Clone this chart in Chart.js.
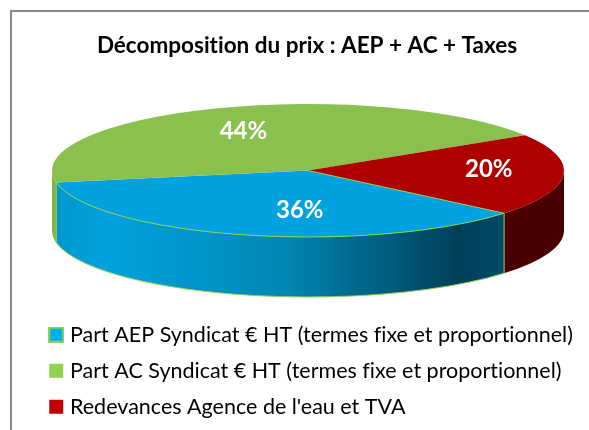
<!DOCTYPE html>
<html><head><meta charset="utf-8">
<style>html,body{margin:0;padding:0;background:#fff}canvas{display:block}</style>
<script src="https://cdn.jsdelivr.net/npm/chart.js@4"></script>
</head><body><canvas id="c" width="589" height="430"></canvas>
<script>
const categories = ["Part AEP Syndicat € HT (termes fixe et proportionnel)","Part AC Syndicat € HT (termes fixe et proportionnel)","Redevances Agence de l'eau et TVA"];
const shares = [36, 44, 20];
const chartTitle = "Décomposition du prix : AEP + AC + Taxes";
const faceColors = ["#00A3E0","#8AC14E","#AF0000"];
const legendColors = ["#00B0F0","#92D050","#C00000"];
const legendEdges = ["#92D050",null,null];

const FONT = "Lato, Carlito, sans-serif";
const G = {cx:308, cy:170.5, rx:256, ry:66.5, depth:60};
const labelPlace = [{f:.6,dx:31,dy:1},{f:.6,dx:-9,dy:-2},{f:.7,dx:2,dy:-4}];

function swatch(fill, edge){
  const s=document.createElement('canvas'); s.width=16; s.height=16;
  const x=s.getContext('2d');
  if(edge){
    x.fillStyle=edge; x.fillRect(0,0,16,16);
    x.fillStyle=fill; x.fillRect(2,2,12,12);
  } else {
    x.fillStyle=fill; x.fillRect(1,1,14,14);
  }
  return s;
}
function wallFill(ctx,i,a0,a1){
  const x0=G.cx+G.rx*Math.cos(a1), x1=G.cx+G.rx*Math.cos(a0);
  if(i===0){
    const g=ctx.createLinearGradient(x0,0,x1,0);
    g.addColorStop(0,'#0097cd'); g.addColorStop(.11,'#00a2df'); g.addColorStop(.5,'#0088b5');
    g.addColorStop(.9,'#003f58'); g.addColorStop(1,'#004a68');
    return g;
  }
  return i===1 ? '#7fb24a' : '#4a0000';
}
const pie3d = {
  id:'pie3d',
  beforeDraw(chart){
    const c=chart.ctx;
    c.textRendering='optimizeSpeed';
    c.save();
    c.fillStyle='#fff'; c.fillRect(0,0,chart.width,chart.height);
    c.strokeStyle='#868686'; c.lineWidth=2;
    c.beginPath(); c.moveTo(11,chart.height); c.lineTo(11,11); c.lineTo(chart.width,11); c.stroke();
    c.restore();
  },
  beforeDatasetsDraw(chart){
    const c=chart.ctx, arcs=chart.getDatasetMeta(0).data;
    arcs.forEach((el,i)=>{
      const segs=[[el.startAngle,el.endAngle],[el.startAngle-2*Math.PI,el.endAngle-2*Math.PI]];
      segs.forEach(([s,e])=>{
        const a0=Math.max(s,0), a1=Math.min(e,Math.PI);
        if(a1<=a0) return;
        c.save();
        c.beginPath();
        c.ellipse(G.cx,G.cy,G.rx,G.ry,0,a0,a1);
        c.ellipse(G.cx,G.cy+G.depth,G.rx,G.ry,0,a1,a0,true);
        c.closePath();
        c.fillStyle=wallFill(c,i,a0,a1); c.fill();
        c.restore();
      });
    });
    const el=arcs[0];
    c.save();
    c.translate(G.cx,G.cy);
    c.scale(G.rx/el.outerRadius,G.ry/el.outerRadius);
    c.translate(-el.x,-el.y);
  },
  afterDatasetsDraw(chart){
    const c=chart.ctx, arcs=chart.getDatasetMeta(0).data;
    c.restore();
    const b=arcs[0], a0=b.startAngle, a1=b.endAngle;
    const px=a=>G.cx+G.rx*Math.cos(a), py=a=>G.cy+G.ry*Math.sin(a);
    c.save();
    c.strokeStyle='#92D050'; c.lineWidth=1;
    c.beginPath(); c.moveTo(G.cx,G.cy); c.lineTo(px(a0),py(a0));
    c.ellipse(G.cx,G.cy,G.rx,G.ry,0,a0,a1);
    c.stroke();
    c.beginPath(); c.moveTo(px(a0),py(a0)); c.lineTo(px(a0),py(a0)+G.depth);
    c.ellipse(G.cx,G.cy+G.depth,G.rx,G.ry,0,a0,a1);
    c.lineTo(px(a1),py(a1));
    c.stroke();
    c.fillStyle='#fff'; c.font='bold 24px '+FONT; c.textAlign='center'; c.textBaseline='middle';
    arcs.forEach((el,i)=>{
      const m=(el.startAngle+el.endAngle)/2, p=labelPlace[i];
      c.fillText(shares[i]+'%',G.cx+G.rx*p.f*Math.cos(m)+p.dx,G.cy+G.ry*p.f*Math.sin(m)+p.dy);
    });
    c.restore();
  }
};
new Chart(document.getElementById('c'),{
  type:'pie',
  data:{labels:categories,datasets:[{data:shares,backgroundColor:faceColors,borderWidth:0,hoverOffset:0}]},
  plugins:[pie3d],
  options:{
    responsive:false,animation:false,rotation:130,
    layout:{padding:{left:38.75,right:13.75,top:0,bottom:2.5}},
    plugins:{
      tooltip:{enabled:false},
      title:{display:true,text:chartTitle,color:'#000',font:{family:FONT,size:22.5,weight:'bold'},padding:{top:32.5,bottom:20}},
      legend:{position:'bottom',align:'start',labels:{
        color:'#333',font:{family:FONT,size:21.5},padding:14.5,boxWidth:6,usePointStyle:true,
        generateLabels(){return categories.map((t,i)=>({text:t,fillStyle:legendColors[i],strokeStyle:legendColors[i],lineWidth:0,index:i,pointStyle:swatch(legendColors[i],legendEdges[i])}));}
      }}
    }
  }
});
</script></body></html>
